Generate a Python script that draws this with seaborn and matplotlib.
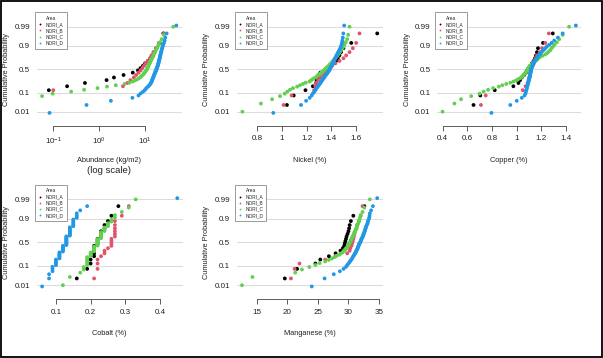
import matplotlib
matplotlib.use('Agg')
import matplotlib.pyplot as plt
from matplotlib.lines import Line2D
from matplotlib.patches import Rectangle
from matplotlib.ticker import NullLocator
import numpy as np
import pandas as pd
import seaborn as sns
from statistics import NormalDist

# 各区域 / 颜色 (R 4 调色板)
areas = ['NORI_A', 'NORI_B', 'NORI_C', 'NORI_D']
area_colors = ['#000000', '#DF536B', '#61D04F', '#2297E6']
prob_ticks = [0.01, 0.1, 0.5, 0.9, 0.99]
prob_labels = ['0.01', '0.1', '0.5', '0.9', '0.99']

# 丰度 (kg/m2)，0 = 无结核（对数轴上不显示）
abund_A = [0, 0, 0.08, 0.2, 0.49, 1.45, 2.1, 3.4, 5.4, 7.0, 8.0, 9.0, 10.0, 11.6, 13.1, 14.3, 15.8, 17.8, 21.0, 25.0]
abund_B = [0, 0, 0.1, 3.3, 4.1, 4.8, 5.7, 6.4, 7.2, 8.0, 8.7, 9.5, 10.3, 11.4, 12.7, 13.8, 15.2, 17.2, 20.0, 25.7]
abund_C = [0, 0, 0, 0.057, 0.097, 0.245, 0.47, 0.92, 1.48, 2.3, 3.6, 4.6, 5.4, 6.1, 6.8, 7.4, 7.9, 8.3, 8.7, 9.2,
           9.5, 9.8, 10.2, 10.5, 10.9, 11.1, 11.3, 11.7, 11.8, 12.0, 12.3, 12.7, 12.9, 13.2, 13.5, 13.8, 14.3, 14.8,
           15.2, 15.5, 16.0, 16.6, 17.2, 17.8, 18.7, 19.7, 21.1, 23.0, 25.7, 41.0]
abund_D = [0.083, 0.53, 1.8, 5.3, 7.2, 8.0, 9.0, 9.8, 10.4, 11.0, 11.8, 12.4, 13.1, 13.3, 13.8, 14.0, 14.3, 14.5,
           14.8, 15.0, 15.3, 15.5, 15.8, 16.0, 16.3, 16.5, 16.8, 17.1, 17.5, 17.6, 17.8, 18.0, 18.4, 18.6, 18.9,
           19.1, 19.3, 19.5, 19.7, 19.9, 20.0, 20.4, 20.6, 20.8, 21.0, 21.1, 21.5, 21.7, 22.1, 22.3, 22.8, 23.0,
           23.6, 24.0, 24.8, 25.8, 26.7, 27.6, 29.6, 48.0]

# 镍 (%)
ni_A = [1.04, 1.095, 1.19, 1.25, 1.276, 1.28, 1.286, 1.297, 1.31, 1.343, 1.37, 1.397, 1.419, 1.438, 1.451, 1.465,
        1.478, 1.497, 1.56, 1.77]
ni_B = [1.013, 1.078, 1.26, 1.27, 1.278, 1.292, 1.31, 1.332, 1.351, 1.368, 1.386, 1.405, 1.432, 1.465, 1.497,
        1.519, 1.546, 1.573, 1.6, 1.627]
ni_C = [0.68, 0.83, 0.92, 0.984, 1.022, 1.043, 1.065, 1.089, 1.122, 1.146, 1.17, 1.192, 1.222, 1.235, 1.246,
        1.259, 1.276, 1.284, 1.292, 1.303, 1.314, 1.319, 1.33, 1.338, 1.346, 1.351, 1.359, 1.368, 1.376, 1.384,
        1.389, 1.397, 1.405, 1.411, 1.419, 1.424, 1.43, 1.44, 1.446, 1.454, 1.462, 1.47, 1.478, 1.486, 1.497,
        1.505, 1.516, 1.527, 1.535, 1.546]
ni_D = [0.93, 1.154, 1.195, 1.224, 1.24, 1.25, 1.262, 1.27, 1.276, 1.284, 1.292, 1.297, 1.305, 1.31, 1.316, 1.32,
        1.326, 1.33, 1.336, 1.34, 1.346, 1.349, 1.355, 1.36, 1.364, 1.369, 1.373, 1.377, 1.382, 1.385, 1.388,
        1.39, 1.395, 1.397, 1.401, 1.404, 1.408, 1.41, 1.414, 1.416, 1.42, 1.424, 1.427, 1.431, 1.435, 1.438,
        1.442, 1.446, 1.451, 1.455, 1.461, 1.466, 1.472, 1.476, 1.481, 1.485, 1.488, 1.492, 1.496, 1.503]

# 铜 (%)
cu_A = [0.651, 0.706, 0.823, 0.974, 1.015, 1.028, 1.042, 1.061, 1.075, 1.083, 1.097, 1.11, 1.124, 1.138, 1.149,
        1.157, 1.165, 1.173, 1.214, 1.293]
cu_B = [0.711, 0.75, 1.05, 1.072, 1.089, 1.097, 1.102, 1.106, 1.11, 1.116, 1.119, 1.127, 1.135, 1.143, 1.154,
        1.165, 1.187, 1.206, 1.233, 1.261]
cu_C = [0.40, 0.496, 0.55, 0.632, 0.70, 0.733, 0.769, 0.81, 0.856, 0.884, 0.916, 0.949, 0.974, 0.996, 1.012,
        1.028, 1.039, 1.048, 1.053, 1.061, 1.069, 1.072, 1.078, 1.083, 1.089, 1.093, 1.097, 1.102, 1.11, 1.116,
        1.124, 1.132, 1.14, 1.151, 1.16, 1.17, 1.176, 1.192, 1.209, 1.231, 1.247, 1.258, 1.272, 1.28, 1.293,
        1.307, 1.326, 1.345, 1.373, 1.425]
cu_D = [0.796, 0.949, 1.001, 1.042, 1.064, 1.072, 1.075, 1.079, 1.082, 1.084, 1.087, 1.089, 1.091, 1.094, 1.095,
        1.098, 1.099, 1.101, 1.104, 1.105, 1.106, 1.108, 1.109, 1.11, 1.112, 1.113, 1.114, 1.116, 1.116, 1.117,
        1.119, 1.121, 1.124, 1.127, 1.13, 1.132, 1.136, 1.138, 1.14, 1.143, 1.149, 1.154, 1.158, 1.164, 1.169,
        1.173, 1.179, 1.186, 1.192, 1.2, 1.211, 1.222, 1.233, 1.244, 1.263, 1.283, 1.304, 1.334, 1.373, 1.48]

# 钴 (%)
co_A = [0.16, 0.19, 0.20, 0.20, 0.21, 0.21, 0.21, 0.21, 0.21, 0.22, 0.22, 0.22, 0.23, 0.23, 0.23, 0.24, 0.24,
        0.25, 0.26, 0.28]
co_B = [0.21, 0.22, 0.22, 0.22, 0.23, 0.24, 0.24, 0.25, 0.26, 0.26, 0.26, 0.26, 0.27, 0.27, 0.27, 0.27, 0.27,
        0.27, 0.29, 0.31]
co_C = [0.12, 0.14, 0.17, 0.18, 0.18, 0.19, 0.19, 0.19, 0.19, 0.19, 0.19, 0.20, 0.20, 0.20, 0.20, 0.21, 0.21,
        0.21, 0.21, 0.21, 0.21, 0.22, 0.22, 0.22, 0.22, 0.22, 0.22, 0.22, 0.22, 0.23, 0.23, 0.23, 0.23, 0.23,
        0.23, 0.23, 0.24, 0.24, 0.24, 0.24, 0.25, 0.25, 0.25, 0.26, 0.26, 0.27, 0.27, 0.29, 0.31, 0.33]
co_D = [0.06, 0.08, 0.08, 0.09, 0.09, 0.09, 0.10, 0.10, 0.10, 0.10, 0.10, 0.11, 0.11, 0.11, 0.11, 0.11, 0.11,
        0.11, 0.12, 0.12, 0.12, 0.12, 0.12, 0.12, 0.12, 0.12, 0.13, 0.13, 0.13, 0.13, 0.13, 0.13, 0.13, 0.13,
        0.13, 0.13, 0.13, 0.13, 0.14, 0.14, 0.14, 0.14, 0.14, 0.14, 0.14, 0.14, 0.14, 0.14, 0.15, 0.15, 0.15,
        0.15, 0.15, 0.15, 0.16, 0.16, 0.16, 0.17, 0.19, 0.45]

# 锰 (%)
mn_A = [19.6, 21.6, 24.6, 25.4, 26.8, 27.9, 28.7, 29.1, 29.3, 29.4, 29.5, 29.6, 29.7, 29.85, 30.0, 30.1, 30.2,
        30.4, 30.8, 32.6]
mn_B = [20.6, 21.2, 22.0, 26.2, 27.9, 29.8, 30.2, 30.3, 30.5, 30.6, 30.7, 30.8, 30.9, 31.0, 31.1, 31.3, 31.4,
        31.7, 32.0, 32.3]
mn_C = [12.6, 14.3, 21.3, 22.4, 23.6, 24.6, 25.3, 26.2, 26.8, 27.3, 27.7, 28.0, 28.5, 28.7, 29.0, 29.2, 29.3,
        29.5, 29.6, 29.8, 29.85, 30.0, 30.05, 30.1, 30.2, 30.3, 30.35, 30.4, 30.5, 30.6, 30.65, 30.7, 30.8, 30.9,
        30.95, 31.0, 31.1, 31.2, 31.3, 31.35, 31.4, 31.5, 31.6, 31.7, 31.8, 31.9, 32.0, 32.3, 32.6, 33.5]
mn_D = [24.0, 26.1, 27.6, 28.6, 29.2, 29.6, 29.8, 30.0, 30.2, 30.3, 30.5, 30.6, 30.7, 30.8, 30.9, 31.0, 31.05,
        31.2, 31.25, 31.3, 31.4, 31.45, 31.5, 31.55, 31.6, 31.65, 31.7, 31.75, 31.8, 31.9, 31.95, 32.0, 32.05,
        32.1, 32.15, 32.2, 32.3, 32.35, 32.4, 32.45, 32.5, 32.55, 32.6, 32.65, 32.7, 32.75, 32.8, 32.85, 32.9,
        33.0, 33.1, 33.15, 33.2, 33.3, 33.4, 33.45, 33.5, 33.7, 34.0, 34.7]

# 横轴刻度
abund_ticks = [0.1, 1, 10]
abund_ticklabels = ['$\\mathdefault{10^{-1}}$', '$\\mathdefault{10^{0}}$', '$\\mathdefault{10^{1}}$']
ni_ticks = [0.8, 1.0, 1.2, 1.4, 1.6]
ni_ticklabels = ['0.8', '1', '1.2', '1.4', '1.6']
cu_ticks = [0.4, 0.6, 0.8, 1.0, 1.2, 1.4]
cu_ticklabels = ['0.4', '0.6', '0.8', '1', '1.2', '1.4']
co_ticks = [0.1, 0.2, 0.3, 0.4]
co_ticklabels = ['0.1', '0.2', '0.3', '0.4']
mn_ticks = [15, 20, 25, 30, 35]
mn_ticklabels = ['15', '20', '25', '30', '35']


def prob_table(samples):
    # 经验累积概率 (Hazen) -> 正态分位数
    rows = []
    for area, vals in zip(areas, samples):
        vals = sorted(vals)
        n = len(vals)
        for i, v in enumerate(vals):
            rows.append({'Area': area, 'value': v, 'z': NormalDist().inv_cdf((i + 0.5) / n)})
    return pd.DataFrame(rows)


sns.set_theme(style='white')
plt.rcParams['font.family'] = ['Liberation Sans', 'DejaVu Sans']

W, H = 603, 358
fig = plt.figure(figsize=(W / 100, H / 100), dpi=100)
fig.patch.set_facecolor('white')

# 面板像素框 (left, top, right, bottom)
panels = [
    ([abund_A, abund_B, abund_C, abund_D], 'Abundance (kg/m2)', abund_ticks, abund_ticklabels, True,
     (36.7, 12.8, 181.7, 125.6)),
    ([ni_A, ni_B, ni_C, ni_D], 'Nickel (%)', ni_ticks, ni_ticklabels, False, (237.0, 12.8, 382.6, 125.6)),
    ([cu_A, cu_B, cu_C, cu_D], 'Copper (%)', cu_ticks, cu_ticklabels, False, (437.2, 12.8, 581.2, 125.6)),
    ([co_A, co_B, co_C, co_D], 'Cobalt (%)', co_ticks, co_ticklabels, False, (36.7, 185.3, 182.7, 299.3)),
    ([mn_A, mn_B, mn_C, mn_D], 'Manganese (%)', mn_ticks, mn_ticklabels, False, (236.6, 185.3, 382.6, 299.3)),
]

z_ticks = [NormalDist().inv_cdf(p) for p in prob_ticks]
palette = dict(zip(areas, area_colors))

for samples, xlabel, xticks, xticklabels, logx, (l, t, r, b) in panels:
    ax = fig.add_axes([l / W, 1 - b / H, (r - l) / W, (b - t) / H])
    ax.set_facecolor('white')
    df = prob_table(samples)
    df = df[df['value'] > 0]

    for zt in z_ticks:
        ax.axhline(zt, color='#DCDCDC', lw=0.8, zorder=0)

    sns.scatterplot(data=df, x='value', y='z', hue='Area', hue_order=areas, palette=palette,
                    s=7.5, linewidth=0, ax=ax, legend=False, zorder=3)

    # R 风格的坐标范围（数据范围外扩 4%）
    if logx:
        ax.set_xscale('log')
        lv = np.log10(df['value'])
        pad = (lv.max() - lv.min()) * 0.04
        ax.set_xlim(10 ** (lv.min() - pad), 10 ** (lv.max() + pad))
        ax.xaxis.set_minor_locator(NullLocator())
    else:
        pad = (df['value'].max() - df['value'].min()) * 0.04
        ax.set_xlim(df['value'].min() - pad, df['value'].max() + pad)
    ax.set_ylim(-3.09, 3.09)

    ax.set_xticks(xticks)
    ax.set_xticklabels(xticklabels)
    ax.set_yticks(z_ticks)
    ax.set_yticklabels(prob_labels)
    ax.tick_params(axis='x', length=3.5, width=0.6, color='#444444', pad=3.5, labelsize=5.8,
                   labelcolor='#222222', direction='out', bottom=True)
    ax.tick_params(axis='y', length=0, pad=4.8, labelsize=5.8, labelcolor='#222222')
    for side in ['top', 'right', 'left']:
        ax.spines[side].set_visible(False)
    ax.spines['bottom'].set_color('#444444')
    ax.spines['bottom'].set_linewidth(0.6)
    ax.spines['bottom'].set_bounds(xticks[0], xticks[-1])

    hpx = b - t
    wpx = r - l
    ax.set_xlabel(xlabel, fontsize=5.3, color='#222222')
    ax.xaxis.label.set_va('center')
    ax.xaxis.set_label_coords(0.5, -34.5 / hpx)
    ax.set_ylabel('Cumulative Probability', fontsize=5.3, color='#222222')
    ax.yaxis.label.set_va('center')
    ax.yaxis.set_label_coords(-30.0 / wpx, 0.5)
    if logx:
        ax.text(0.5, -44.5 / hpx, '(log scale)', transform=ax.transAxes, ha='center', va='center',
                fontsize=6.8, color='#222222')

    handles = [Line2D([], [], marker='o', ls='', color=c, markersize=1.3, markeredgewidth=0)
               for c in area_colors]
    leg = ax.legend(handles, areas, title='Area', loc='upper left', bbox_to_anchor=(-0.012, 1.003),
                    borderaxespad=0, fontsize=3.4, title_fontsize=3.4, frameon=True, fancybox=False,
                    handlelength=0.6, handletextpad=0.9, labelspacing=0.25, borderpad=0.7)
    leg.get_frame().set_edgecolor('#8C8C8C')
    leg.get_frame().set_linewidth(0.6)
    leg.get_frame().set_alpha(1)
    leg.set_zorder(5)

# 外框
fig.patches.append(Rectangle((0.8 / W, 0.8 / H), 1 - 1.8 / W, 1 - 1.8 / H, transform=fig.transFigure,
                             fill=False, ec='black', lw=1.3))

fig.savefig('out.png', dpi=100, facecolor='white')
